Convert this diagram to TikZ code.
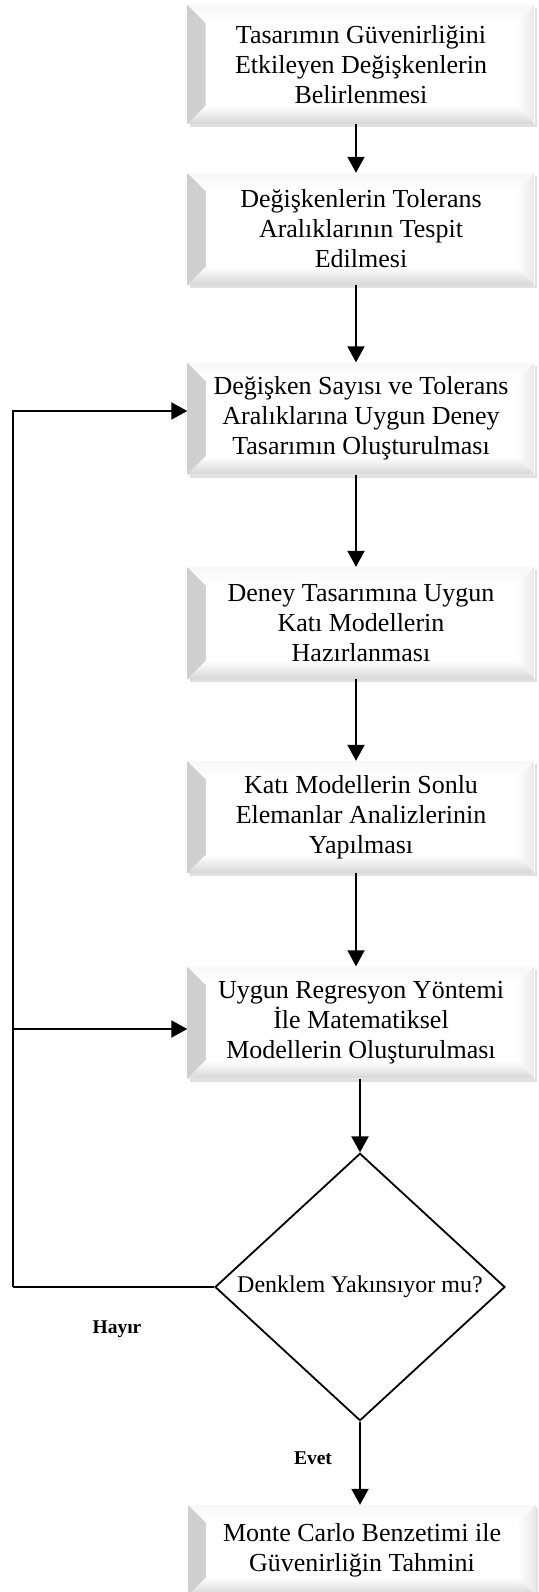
\documentclass[tikz,border=0pt]{standalone}
\usepackage{fontspec}
\setmainfont{Liberation Serif}
\usetikzlibrary{shapes.geometric,arrows.meta,shadows,calc}

\begin{document}
\begin{tikzpicture}[x=1pt,y=-1pt,line join=miter,>={Triangle[length=16pt,width=17pt]},
        bevelbox/.style={rectangle,fill=white,minimum width=347pt,minimum height=112pt,
            inner sep=0pt,align=center,font=\fontsize{26}{30}\selectfont,
            drop shadow={shadow xshift=2pt,shadow yshift=-3pt,opacity=0.3,fill=gray!80},
            path picture={
                \shade[left color=gray!38,right color=white]
                    (path picture bounding box.south west) -- (path picture bounding box.north west)
                    -- ($(path picture bounding box.north west)+(18pt,-18pt)$)
                    -- ($(path picture bounding box.south west)+(18pt,18pt)$) -- cycle;
                \shade[top color=gray!6,bottom color=white]
                    (path picture bounding box.north west) -- (path picture bounding box.north east)
                    -- ($(path picture bounding box.north east)+(-18pt,-18pt)$)
                    -- ($(path picture bounding box.north west)+(18pt,-18pt)$) -- cycle;
                \shade[left color=white,right color=gray!18]
                    (path picture bounding box.north east) -- (path picture bounding box.south east)
                    -- ($(path picture bounding box.south east)+(-18pt,18pt)$)
                    -- ($(path picture bounding box.north east)+(-18pt,-18pt)$) -- cycle;
                \shade[top color=white,bottom color=gray!32]
                    (path picture bounding box.south west) -- (path picture bounding box.south east)
                    -- ($(path picture bounding box.south east)+(-18pt,18pt)$)
                    -- ($(path picture bounding box.south west)+(18pt,18pt)$) -- cycle;
            }},
        decision/.style={diamond,draw,line width=1.8pt,fill=white,minimum width=290pt,
            minimum height=260pt,inner sep=0pt,font=\fontsize{24}{28}\selectfont},
        flow/.style={->,line width=2pt},
        answer/.style={font=\bfseries\fontsize{19.5}{22}\selectfont}]
    \useasboundingbox (0,0) rectangle (538,1592);

    % the steps
    \node[bevelbox,minimum height=119pt] (vars) at (361,64.5) {Tasarımın Güvenirliğini\\Etkileyen Değişkenlerin\\Belirlenmesi};
    \node[bevelbox] (tol) at (361,229) {Değişkenlerin Tolerans\\Aralıklarının Tespit\\Edilmesi};
    \node[bevelbox] (doe) at (361,418.5) {Değişken Sayısı ve Tolerans\\Aralıklarına Uygun Deney\\Tasarımın Oluşturulması};
    \node[bevelbox] (solid) at (361,623) {Deney Tasarımına Uygun\\Katı Modellerin\\Hazırlanması};
    \node[bevelbox] (fea) at (361,817) {Katı Modellerin Sonlu\\Elemanlar Analizlerinin\\Yapılması};
    \node[bevelbox] (regr) at (361,1022.5) {Uygun Regresyon Yöntemi\\İle Matematiksel\\Modellerin Oluşturulması};

    % the question
    \node[decision] (conv) at (360,1287) {Denklem Yakınsıyor mu?};

    % the result
    \node[bevelbox,minimum height=90pt] (mc) at (362,1550) {Monte Carlo Benzetimi ile\\Güvenirliğin Tahmini};

    % arrows down
    \draw[flow] ([xshift=-5pt]vars.south) -- ([xshift=-5pt]tol.north);
    \draw[flow] ([xshift=-5pt]tol.south) -- ([xshift=-5pt]doe.north);
    \draw[flow] ([xshift=-5pt]doe.south) -- ([xshift=-5pt]solid.north);
    \draw[flow] ([xshift=-5pt]solid.south) -- ([xshift=-5pt]fea.north);
    \draw[flow] ([xshift=-5pt]fea.south) -- ([xshift=-5pt]regr.north);
    \draw[flow] (regr.south -| conv.north) -- (conv.north);
    \draw[flow] (conv.south) -- (conv.south |- mc.north);

    % the loop back
    \coordinate (lowleft) at (13,1287);
    \coordinate (upleft) at (13,411);
    \coordinate (midleft) at (13,1029);
    \draw[line width=1.2pt] (conv.west) -- (lowleft);
    \draw[flow] (lowleft) -- (upleft) -- (upleft -| doe.west);
    \draw[flow] (midleft) -- (midleft -| regr.west);

    % answers
    \node[answer] (no) at (117,1329) {Hayır};
    \node[answer] (yes) at (313,1458) {Evet};
\end{tikzpicture}
\end{document}
